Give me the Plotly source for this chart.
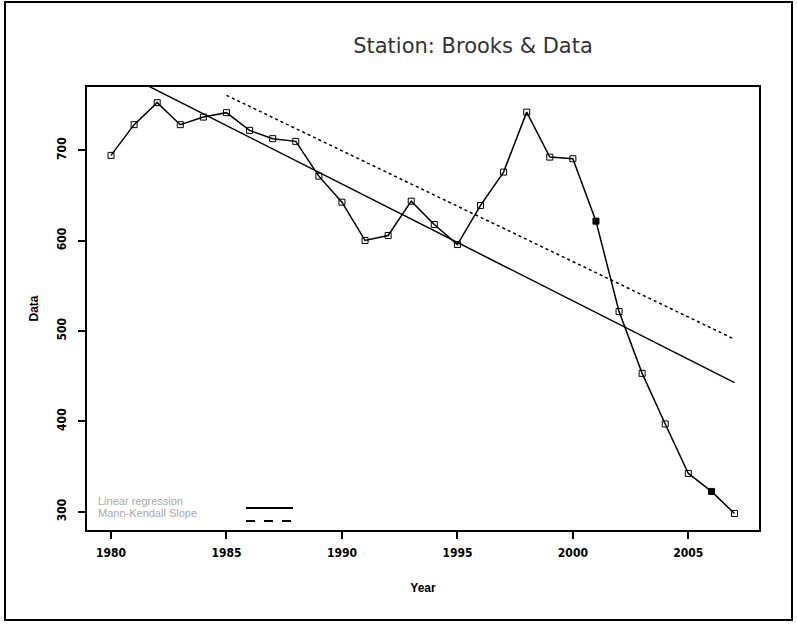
import plotly.graph_objects as go

years = list(range(1980, 2008))
values = [694.5, 728.5, 752.9, 728.5, 736.9, 741.8, 722.2, 713.0, 710.0, 671.5,
          642.7, 600.3, 605.8, 643.8, 618.0, 595.8, 639.1, 676.0, 742.4, 692.6,
          690.8, 621.7, 521.6, 453.2, 397.2, 342.4, 322.5, 298.1]

reg_years = [1980, 2007]
reg_values = [792.2, 442.9]

mk_years = [1985, 2007]
mk_values = [761.0, 491.0]

x_tick_vals = [1980, 1985, 1990, 1995, 2000, 2005]
x_tick_text = ["1980", "1985", "1990", "1995", "2000", "2005"]
y_tick_vals = [300, 400, 500, 600, 700]
y_tick_text = ["300", "400", "500", "600", "700"]

filled_years = {2001, 2006}
symbols = ["square" if y in filled_years else "square-open" for y in years]

W, H = 797, 624
L, R, T, B = 87, 38, 87, 94
pw, ph = W - L - R, H - T - B


def px(xp):
    return (xp - L) / pw


def py(yp):
    return (H - B - yp) / ph


fig = go.Figure()
fig.add_trace(go.Scatter(x=reg_years, y=reg_values, mode="lines",
                         line=dict(color="black", width=1.5), showlegend=False,
                         hoverinfo="skip"))
fig.add_trace(go.Scatter(x=mk_years, y=mk_values, mode="lines",
                         line=dict(color="black", width=1.5, dash="dot"),
                         showlegend=False, hoverinfo="skip"))
fig.add_trace(go.Scatter(x=years, y=values, mode="lines+markers",
                         line=dict(color="black", width=1.5),
                         marker=dict(symbol=symbols, size=6, color="black",
                                     line=dict(color="black", width=1)),
                         showlegend=False))

tickfont = dict(size=12, family="DejaVu Sans Condensed, Liberation Sans", weight="bold")

fig.update_layout(
    width=W, height=H,
    margin=dict(l=L, r=R, t=T, b=B),
    paper_bgcolor="white", plot_bgcolor="white",
    font=dict(family="Liberation Sans, Arial, sans-serif", color="black"),
    title=dict(text="Station: Brooks & Data", x=px(473), xref="paper",
               xanchor="center", y=1 - 46 / H, yanchor="middle",
               font=dict(size=21, color="#333333", family="DejaVu Sans")),
    xaxis=dict(range=[1978.96, 2008.06], showgrid=False, zeroline=False,
               showline=True, linecolor="black", linewidth=2, mirror=True,
               ticks="outside", ticklen=7, tickwidth=2, tickcolor="black",
               tickvals=x_tick_vals, ticktext=x_tick_text,
               ticklabelstandoff=4, tickfont=tickfont,
               title=dict(text="<b>Year</b>", font=dict(size=12), standoff=24)),
    yaxis=dict(range=[279.8, 770.2], showgrid=False, zeroline=False,
               showline=True, linecolor="black", linewidth=2, mirror=True,
               ticks="outside", ticklen=7, tickwidth=2, tickcolor="black",
               tickvals=y_tick_vals, ticktext=y_tick_text, tickangle=-90,
               ticklabelstandoff=7, tickfont=tickfont,
               title=dict(text="<b>Data</b>", font=dict(size=12), standoff=14)),
)

# legend (inside plot, bottom-left, sample lines to the right of the text)
fig.add_annotation(x=px(96), y=py(509), xref="paper", yref="paper",
                   text="Linear regression", showarrow=False, xanchor="left",
                   font=dict(size=11, color="#aaaaaa"))
fig.add_annotation(x=px(96), y=py(521), xref="paper", yref="paper",
                   text="Mann-Kendall Slope", showarrow=False, xanchor="left",
                   font=dict(size=11, color="#aaaaaa"))
fig.add_shape(type="line", xref="paper", yref="paper",
              x0=px(246), x1=px(293), y0=py(508), y1=py(508),
              line=dict(color="black", width=2))
fig.add_shape(type="line", xref="paper", yref="paper",
              x0=px(246), x1=px(293), y0=py(521), y1=py(521),
              line=dict(color="black", width=2, dash="dash"))

# outer figure border
fig.add_shape(type="rect", xref="paper", yref="paper",
              x0=px(5), x1=px(792), y0=py(620), y1=py(2),
              line=dict(color="black", width=2), layer="below")

fig.write_html("out.html", config={"displayModeBar": False},
               post_script="document.body.style.margin='0';")
